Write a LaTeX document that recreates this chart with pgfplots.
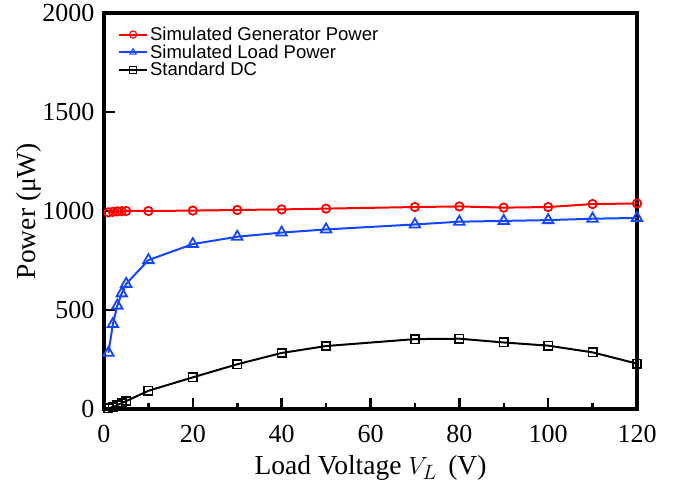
\documentclass[border=0pt]{standalone}
\usepackage{fontspec}
\setmainfont{Liberation Serif}
\newfontfamily\legfont{Liberation Sans}
\usepackage{pgfplots}
\pgfplotsset{compat=1.18}
\definecolor{myred}{RGB}{255,0,0}
\definecolor{myblue}{RGB}{20,70,255}
\begin{document}
\begin{tikzpicture}
\begin{axis}[
  scale only axis,
  width=533pt, height=396pt,
  xmin=0, xmax=120, ymin=0, ymax=2000,
  xtick={0,20,...,120}, ytick={0,500,...,2000},
  minor xtick={10,30,...,110},
  tick align=inside,
  xtick pos=bottom, ytick pos=left,
  major tick length=11pt, minor tick length=6pt,
  axis line style={line width=3.2pt},
  tick style={line width=2.5pt, black},
  /pgf/number format/assume math mode=true,
  /pgf/number format/1000 sep={},
  tick label style={font=\fontsize{26}{28}\selectfont},
  xticklabel style={yshift=-13pt},
  yticklabel style={xshift=-6pt},
  label style={font=\fontsize{27.5}{30}\selectfont},
  xlabel={Load Voltage $V_L$\, (V)},
  ylabel={Power (μW)},
  xlabel style={yshift=-5pt},
  ylabel style={yshift=-6pt},
  legend style={draw=none, fill=none, at={(0.026,0.975)}, anchor=north west,
    font=\legfont\fontsize{18.5}{19}\selectfont, row sep=-1.2pt,
    legend cell align=left, inner xsep=0pt,
    /tikz/every even column/.append style={column sep=6pt}},
  legend image code/.code={%
    \draw[mark repeat=2,mark phase=2,#1] plot coordinates {(0pt,0pt)(14pt,0pt)(28pt,0pt)};},
  legend image post style={mark size=3.6pt, mark options={line width=1.1pt}},
  clip=false,
]
\addplot[myred, line width=2pt, mark=o, mark size=4.2pt, mark options={line width=1.8pt}] coordinates {
(1,993)(2,996)(3,998)(4,999)(5,1000)(10,1000)(20,1002)(30,1005)(40,1008)(50,1012)(70,1020)(80,1023)(90,1017)(100,1020)(110,1035)(120,1038)};
\addlegendentry{Simulated Generator Power}
\addplot[myblue, line width=2pt, mark=triangle, mark size=6pt, mark options={line width=1.8pt}] coordinates {
(1,284)(2,429)(3,522)(4,584)(5,632)(10,752)(20,833)(30,870)(40,891)(50,907)(70,932)(80,946)(90,950)(100,954)(110,961)(120,965)};
\addlegendentry{Simulated Load Power}
\addplot[black, line width=2pt, mark=square, mark size=4.2pt, mark options={line width=1.6pt}] coordinates {
(1,3)(2,10)(3,20)(4,30)(5,40)(10,92)(20,160)(30,226)(40,283)(50,318)(70,353)(80,355)(90,336)(100,320)(110,286)(120,229)};
\addlegendentry{Standard DC}
\end{axis}
\pgfresetboundingbox
\useasboundingbox (-104pt,-75pt) rectangle (570pt,409pt);
\end{tikzpicture}
\end{document}
